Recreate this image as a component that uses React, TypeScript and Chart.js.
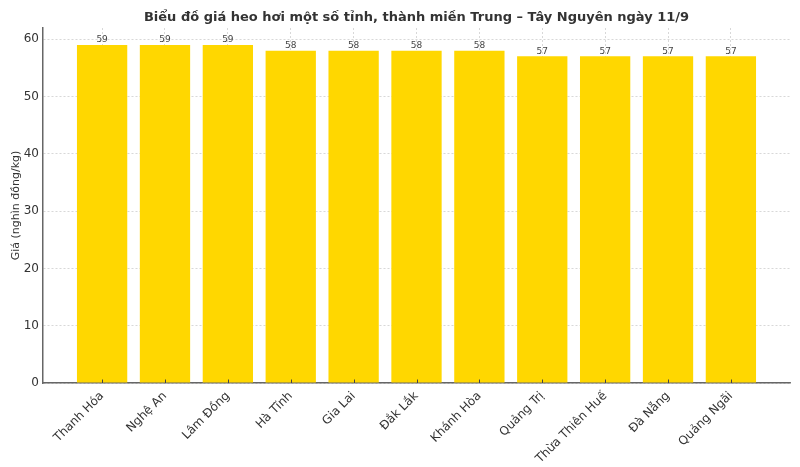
import { useEffect, useRef } from "react";
import { Chart, registerables } from "chart.js";

Chart.register(...registerables);

const categories = [
  "Thanh Hóa",
  "Nghệ An",
  "Lâm Đồng",
  "Hà Tĩnh",
  "Gia Lai",
  "Đắk Lắk",
  "Khánh Hòa",
  "Quảng Trị",
  "Thừa Thiên Huế",
  "Đà Nẵng",
  "Quảng Ngãi",
];
const prices = [59, 59, 59, 58, 58, 58, 58, 57, 57, 57, 57];
const yTicks = [0, 10, 20, 30, 40, 50, 60];
const titleText = "Biểu đồ giá heo hơi một số tỉnh, thành miền Trung – Tây Nguyên ngày 11/9";
const yLabel = "Giá (nghìn đồng/kg)";

const FONT = "'DejaVu Sans', sans-serif";
const GRID = "rgba(190,190,190,0.75)";

export default function App() {
  const ref = useRef<HTMLCanvasElement | null>(null);

  useEffect(() => {
    if (!ref.current) return;
    const titlePlugin = {
      id: "customTitle",
      afterDraw(chart: any) {
        const { ctx, chartArea } = chart;
        ctx.save();
        ctx.font = `bold 13px ${FONT}`;
        ctx.fillStyle = "#333333";
        ctx.textAlign = "center";
        ctx.textBaseline = "middle";
        ctx.fillText(titleText, (chartArea.left + chartArea.right) / 2, 17.5);
        // inward tick marks on x axis
        const xs = chart.scales.x;
        ctx.strokeStyle = "#444444";
        ctx.lineWidth = 1;
        categories.forEach((_, i) => {
          const px = Math.round(xs.getPixelForValue(i)) + 0.5;
          ctx.beginPath();
          ctx.moveTo(px, chartArea.bottom);
          ctx.lineTo(px, chartArea.bottom - 3.5);
          ctx.stroke();
        });
        ctx.restore();
      },
    };
    const valuePlugin = {
      id: "valueLabels",
      afterDatasetsDraw(chart: any) {
        const { ctx } = chart;
        const meta = chart.getDatasetMeta(0);
        ctx.save();
        ctx.font = `9px ${FONT}`;
        ctx.fillStyle = "#444444";
        ctx.textAlign = "center";
        ctx.textBaseline = "bottom";
        meta.data.forEach((el: any, i: number) => {
          ctx.fillText(String(prices[i]), el.x, el.y - 0.5);
        });
        ctx.restore();
      },
    };
    const chart = new Chart(ref.current, {
      type: "bar",
      data: {
        datasets: [
          {
            data: prices.map((v, i) => ({ x: i, y: v })),
            backgroundColor: "#FFD700",
            borderWidth: 0,
            barPercentage: 0.8,
            categoryPercentage: 1.0,
          },
        ],
      },
      options: {
        animation: false,
        responsive: true,
        maintainAspectRatio: false,
        layout: { padding: { left: 0, right: 10, top: 28, bottom: 0 } },
        plugins: {
          legend: { display: false },
          title: { display: false },
          tooltip: { enabled: false },
        },
        scales: {
          x: {
            type: "linear",
            min: -0.94,
            max: 10.94,
            offset: false,
            z: 1,
            afterBuildTicks: (scale: any) => {
              scale.ticks = categories.map((_, i) => ({ value: i }));
            },
            afterFit: (scale: any) => {
              scale.height = 84;
            },
            ticks: {
              autoSkip: false,
              minRotation: 45,
              maxRotation: 45,
              padding: 6,
              color: "#333333",
              font: { family: FONT, size: 12 },
              callback: (v: any) => categories[v as number] ?? "",
            },
            grid: {
              offset: false,
              color: GRID,
              lineWidth: 0.8,
              drawTicks: false,
            },
            border: { display: true, color: "#666666", width: 1.5, dash: [2, 2] },
          },
          y: {
            min: 0,
            max: 61.95,
            z: 1,
            afterBuildTicks: (scale: any) => {
              scale.ticks = yTicks.map((v) => ({ value: v }));
            },
            afterFit: (scale: any) => {
              scale.width = 43;
            },
            ticks: {
              padding: 4,
              color: "#333333",
              font: { family: FONT, size: 12 },
            },
            grid: {
              color: GRID,
              lineWidth: 0.8,
              drawTicks: false,
            },
            border: { display: true, color: "#666666", width: 1.5, dash: [2, 2] },
            title: {
              display: true,
              text: yLabel,
              color: "#333333",
              font: { family: FONT, size: 11 },
              padding: { top: 10, bottom: 0 },
            },
          },
        },
      },
      plugins: [titlePlugin, valuePlugin],
    } as any);
    return () => chart.destroy();
  }, []);

  return (
    <div style={{ position: "fixed", left: 0, top: 0, width: 800, height: 467 }}>
      <canvas ref={ref} />
    </div>
  );
}
